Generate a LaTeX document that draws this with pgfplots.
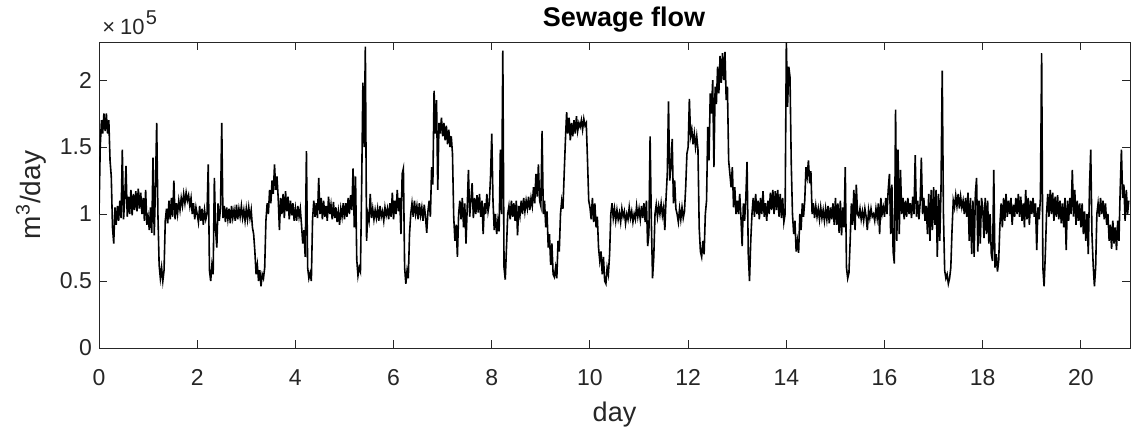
\documentclass[border=0pt]{standalone}
\usepackage{pgfplots}
\pgfplotsset{compat=1.18}
\usepackage{pgfplotstable}
\usepackage{fontspec}
\setmainfont{Liberation Sans}
\definecolor{axgray}{HTML}{262626}

% sewage flow, thousand m^3/day, one sample every 0.025 day (40 per day)
\pgfplotstableread[row sep=\\]{
v\\
100\\150\\170\\160\\175\\162\\175\\160\\170\\140\\128\\90\\78\\105\\92\\106\\95\\110\\97\\148\\96\\112\\136\\98\\113\\100\\118\\99\\115\\103\\117\\102\\119\\104\\116\\100\\112\\95\\118\\92\\
98\\88\\105\\86\\142\\84\\120\\168\\100\\62\\52\\60\\50\\58\\95\\104\\93\\110\\96\\112\\98\\125\\96\\108\\100\\110\\103\\112\\106\\115\\108\\116\\110\\114\\106\\112\\100\\108\\96\\105\\
100\\94\\106\\95\\104\\92\\103\\96\\100\\137\\58\\50\\62\\55\\127\\88\\75\\108\\95\\104\\168\\97\\106\\94\\105\\96\\104\\93\\106\\97\\103\\95\\107\\96\\104\\98\\106\\97\\103\\95\\
104\\96\\105\\97\\103\\90\\85\\72\\55\\62\\50\\58\\46\\55\\52\\60\\95\\108\\100\\118\\108\\125\\115\\137\\118\\128\\112\\88\\112\\100\\115\\97\\117\\102\\113\\96\\110\\99\\108\\95\\
104\\95\\106\\98\\104\\92\\78\\88\\68\\147\\60\\52\\56\\50\\96\\110\\98\\108\\97\\127\\100\\112\\96\\110\\98\\106\\95\\113\\100\\107\\96\\109\\97\\105\\94\\102\\92\\104\\98\\108\\
96\\108\\98\\112\\100\\114\\103\\134\\90\\128\\66\\54\\60\\57\\120\\198\\150\\225\\80\\100\\95\\115\\97\\104\\96\\103\\97\\104\\95\\106\\98\\102\\95\\105\\99\\104\\96\\108\\98\\116\\
96\\110\\100\\118\\102\\112\\85\\130\\134\\60\\48\\58\\52\\85\\100\\108\\98\\110\\100\\106\\96\\108\\99\\105\\95\\107\\98\\86\\102\\110\\98\\135\\122\\192\\160\\185\\118\\168\\160\\172\\
158\\168\\155\\166\\152\\163\\150\\158\\145\\98\\80\\92\\68\\100\\110\\96\\112\\90\\108\\78\\105\\133\\98\\110\\123\\97\\112\\100\\114\\101\\115\\98\\110\\85\\108\\100\\115\\102\\108\\128\\
160\\110\\88\\100\\85\\95\\87\\148\\100\\222\\60\\51\\75\\100\\106\\96\\110\\98\\108\\95\\110\\84\\106\\99\\110\\100\\112\\102\\110\\104\\113\\103\\112\\106\\120\\108\\130\\113\\137\\110\\
106\\162\\100\\110\\90\\102\\75\\85\\62\\78\\55\\53\\60\\52\\80\\72\\100\\110\\104\\130\\155\\176\\160\\172\\155\\168\\158\\170\\160\\173\\162\\168\\165\\170\\163\\171\\166\\168\\140\\110\\
105\\96\\112\\94\\108\\90\\98\\75\\65\\72\\55\\68\\50\\48\\60\\55\\70\\100\\108\\97\\104\\95\\103\\96\\101\\94\\104\\98\\102\\93\\100\\96\\105\\97\\102\\94\\100\\96\\106\\98\\
104\\96\\106\\97\\108\\94\\110\\76\\85\\158\\95\\52\\68\\100\\107\\98\\106\\100\\108\\99\\105\\88\\112\\130\\184\\125\\136\\156\\108\\125\\104\\100\\94\\104\\96\\105\\97\\102\\120\\145\\
150\\186\\158\\163\\152\\160\\150\\158\\148\\90\\72\\68\\80\\70\\100\\110\\165\\140\\190\\175\\200\\135\\195\\182\\210\\190\\218\\198\\220\\200\\221\\185\\195\\140\\130\\120\\135\\105\\120\\100\\
110\\100\\115\\98\\76\\108\\95\\112\\139\\70\\50\\80\\100\\112\\98\\115\\100\\110\\96\\112\\100\\117\\98\\108\\95\\110\\100\\116\\103\\118\\100\\117\\103\\118\\98\\115\\97\\112\\94\\100\\
228\\180\\210\\202\\138\\100\\85\\95\\72\\80\\71\\100\\88\\108\\98\\110\\135\\128\\140\\123\\132\\100\\108\\97\\106\\98\\104\\96\\105\\97\\103\\95\\104\\96\\106\\93\\105\\96\\108\\92\\
112\\92\\108\\86\\110\\84\\105\\90\\135\\60\\52\\56\\80\\108\\92\\118\\88\\122\\100\\98\\104\\96\\102\\95\\104\\98\\88\\103\\97\\104\\98\\100\\95\\104\\97\\108\\85\\112\\100\\105\\
98\\112\\100\\118\\130\\85\\122\\72\\63\\178\\80\\148\\85\\133\\100\\112\\96\\110\\98\\112\\100\\108\\97\\113\\100\\144\\98\\110\\96\\108\\142\\100\\112\\95\\106\\85\\115\\80\\118\\88\\
120\\92\\118\\68\\115\\80\\118\\207\\100\\58\\52\\55\\48\\52\\60\\88\\110\\105\\114\\106\\115\\104\\113\\105\\110\\100\\112\\98\\116\\80\\112\\70\\110\\68\\115\\127\\72\\110\\78\\112\\
105\\82\\112\\85\\110\\78\\100\\70\\65\\133\\60\\70\\57\\65\\92\\108\\90\\112\\95\\115\\98\\110\\100\\112\\92\\107\\98\\112\\100\\115\\98\\113\\95\\108\\90\\118\\96\\112\\92\\110\\
100\\112\\98\\108\\73\\105\\96\\112\\220\\60\\46\\70\\100\\115\\98\\118\\100\\116\\95\\113\\98\\114\\96\\110\\93\\108\\90\\112\\73\\110\\95\\112\\100\\133\\98\\118\\92\\110\\95\\108\\
90\\108\\85\\102\\80\\100\\70\\120\\148\\85\\62\\46\\60\\100\\108\\98\\112\\100\\110\\96\\108\\92\\100\\80\\92\\74\\95\\78\\90\\73\\95\\80\\118\\148\\112\\122\\95\\118\\100\\110\\
}\flow

\begin{document}
\begin{tikzpicture}
\useasboundingbox (-49.5pt,-40.5pt) rectangle (517pt,174pt);
\begin{axis}[
  at={(0,0)}, anchor=south west,
  scale only axis, width=515.5pt, height=153pt,
  xmin=0, xmax=21, ymin=0, ymax=228400,
  xtick={0,2,...,20},
  ytick={0,50000,100000,150000,200000},
  yticklabels={0,0.5,1,1.5,2},
  scaled y ticks=false,
  tick align=inside, major tick length=4pt,
  axis line style={axgray, line width=0.5pt},
  tick style={axgray, line width=0.5pt},
  /pgf/number format/assume math mode=true,
  ticklabel style={font=\fontsize{11.5}{13}\selectfont, text=axgray},
  xticklabel style={anchor=base, yshift=-18.5pt},
  xlabel={day},
  ylabel={m\textsuperscript{3}/day},
  xlabel style={at={(axis description cs:0.5,-0.2386)}, anchor=base, font=\fontsize{13.5}{15}\selectfont, text=axgray},
  ylabel style={at={(axis description cs:-0.0572,0.5)}, anchor=base, font=\fontsize{14}{16}\selectfont, text=axgray},
]
\addplot[black, line width=0.8pt, mark=none, y filter/.expression={y*1000}]
  table[x expr=\coordindex/40, y index=0] {\flow};
\end{axis}
\node[anchor=base west, font=\fontsize{11}{13}\selectfont, text=axgray, inner sep=0pt] at (1.5pt,156.5pt) {×\hspace{2.5pt}10\hspace{0.6pt}\raisebox{5pt}{\fontsize{10}{11}\selectfont 5}};
\node[anchor=base, font=\bfseries\fontsize{13.5}{15}\selectfont, inner sep=0pt] at (262.5pt,160.5pt) {Sewage flow};
\end{tikzpicture}
\end{document}
